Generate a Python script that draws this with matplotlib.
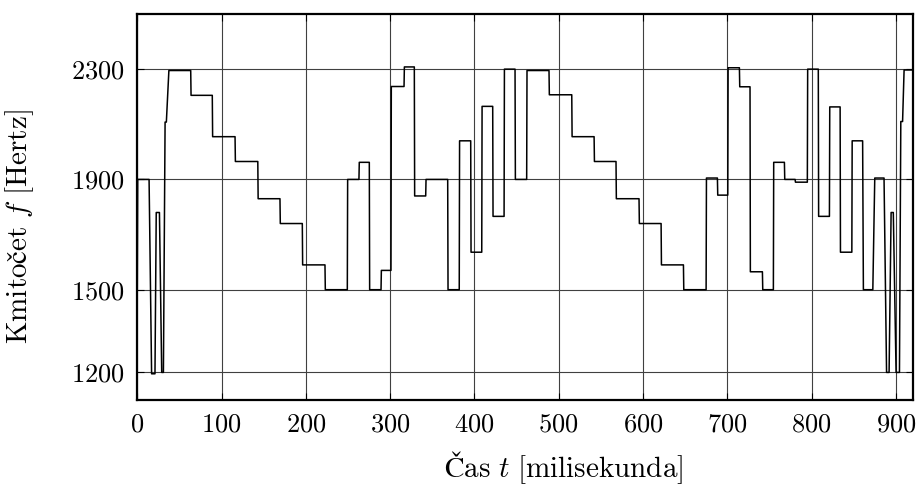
import matplotlib
matplotlib.use("Agg")
import matplotlib.pyplot as plt

# step segments: start [ms], end [ms], frequency [Hz]
seg_start = [0, 0.5, 17, 22.5, 29, 33, 37.5, 63.8, 89.4, 116.4, 143.4, 169.7,
             196.2, 223.1, 249.6, 263.4, 275.7, 289.6, 301.4, 316.9, 329.1,
             342.6, 368.7, 382.4, 396, 409.1, 422.1, 435.6, 448.6, 462.4,
             488.9, 515.9, 542.4, 568.4, 595.7, 621.9, 648.4, 675.3, 688.7,
             701, 714.8, 727.4, 742.1, 755.1, 768.2, 780.9, 795.4, 808.4,
             821.6, 834.3, 848.2, 861.5, 875, 889, 894.4, 900.3, 905.9, 909.8]
seg_end = [0, 14, 21, 26.3, 31, 34.5, 63.4, 89, 116, 143, 169.3, 195.8,
           222.7, 249.2, 263, 275.3, 289.2, 301, 316.5, 328.7, 342.2,
           368.3, 382, 395.6, 408.7, 421.7, 435.2, 448.2, 462, 488.5,
           515.5, 542, 568, 595.3, 621.5, 648, 674.9, 688.3, 700.6,
           714.4, 727, 741.7, 754.7, 767.8, 780.5, 795, 808, 821.2,
           833.9, 847.8, 860.6, 872.7, 886, 892, 897, 904.3, 908, 920]
seg_freq = [1500, 1900, 1195, 1780, 1200, 2108, 2295, 2205, 2055, 1965, 1830,
            1740, 1590, 1500, 1900, 1962, 1500, 1570, 2237, 2308, 1840,
            1900, 1500, 2040, 1636, 2165, 1766, 2300, 1900, 2295,
            2207, 2055, 1965, 1830, 1740, 1590, 1500, 1905, 1843,
            2305, 2236, 1565, 1500, 1962, 1900, 1890, 2300, 1766,
            2163, 1636, 2040, 1500, 1905, 1200, 1780, 1200, 2110, 2297]

x_ticks = [0, 100, 200, 300, 400, 500, 600, 700, 800, 900]
y_ticks = [1200, 1500, 1900, 2300]

t = []
f = []
for a, b, v in zip(seg_start, seg_end, seg_freq):
    t += [a, b]
    f += [v, v]

plt.rcParams["font.family"] = ["cmr10", "STIXGeneral"]
plt.rcParams["mathtext.fontset"] = "cm"
plt.rcParams["axes.formatter.use_mathtext"] = True
plt.rcParams["axes.unicode_minus"] = False

fig = plt.figure(figsize=(9.17, 4.86), dpi=100)
ax = fig.add_axes([0.1497, 0.177, 0.8456, 0.7942])

ax.plot(t, f, color="black", linewidth=1.1)

ax.set_xlim(0, 920)
ax.set_ylim(1100, 2500)
ax.set_xticks(x_ticks)
ax.set_yticks(y_ticks)
ax.grid(True, color="0.25", linewidth=0.8)
ax.set_axisbelow(True)
ax.tick_params(direction="in", length=5, width=0.8, top=True, right=True,
               labelsize=19, pad=9)
for s in ax.spines.values():
    s.set_linewidth(1.6)

# cmr10 lacks č / Č; mathtext takes them from its STIX fallback
ax.set_xlabel(r"$\mathrm{Čas}\ t\ \mathrm{[milisekunda]}$", fontsize=21)
ax.set_ylabel(r"$\mathrm{Kmitočet}\ f\ \mathrm{[Hertz]}$", fontsize=21)
ax.xaxis.set_label_coords(0.55, -0.127)
ax.yaxis.set_label_coords(-0.131, 0.45)

fig.savefig("out.png", dpi=100)
